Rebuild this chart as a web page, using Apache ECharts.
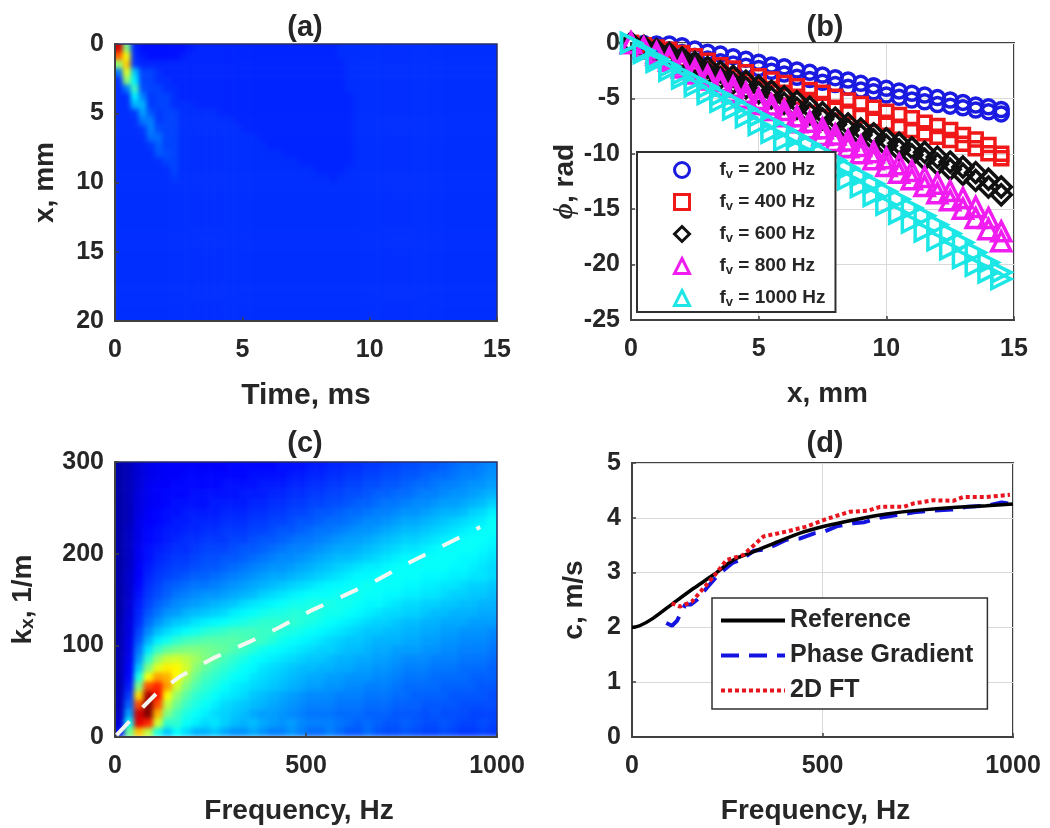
<!DOCTYPE html>
<html><head><meta charset="utf-8">
<style>
html,body{margin:0;padding:0;background:#fff;width:1050px;height:828px;overflow:hidden}
#under,#main{position:absolute;left:0;top:0;width:1050px;height:828px}
#under{filter:blur(2.5px);clip-path:path('M115 44H497V321H115Z M115 462H497V737H115Z')}
#main{filter:blur(0.6px)}
</style>
<script src="https://cdn.jsdelivr.net/npm/echarts@6/dist/echarts.min.js"></script>
</head><body>
<div id="under"></div><div id="main"></div>
<script>
// ---------- panel (a): jet level (0-100) by depth row (0.59 mm) and time column (0.3125 ms)
const aBackground = 17;
const aLevels = [
[92,50,16,14,14,14,14,14,14,15,16,16,16,16,16,16,16,16,16,16,16,16,16,16,16,16,16,16],
[78,62,17,15,14,14,14,14,15,16,16,16,16,16,16,16,16,16,16,16,16,16,16,16,16,16,16,16],
[52,68,18,16,16,16,16,16,16,16,16,16,16,16,16,16,16,16,16,16,16,16,16,16,16,16,16,16,16],
[24,60,32,19,19,17,16,16,16,16,16,16,16,16,16,16,16,16,16,16,16,16,16,16,16,16,16,16,16],
[17,52,36,19,19,17,17,16,16,16,16,16,16,16,16,16,16,16,16,16,16,16,16,16,16,16,16,16,16],
[17,24,44,20,19,19,17,17,16,16,16,16,16,16,16,16,16,16,16,16,16,16,16,16,16,16,16,16,16],
[17,17,36,25,18,19,19,17,16,16,16,16,16,16,16,16,16,16,16,16,16,16,16,16,16,16,16,16,16,16],
[17,17,30,30,18,19,19,17,17,17,16,16,16,16,16,16,16,16,16,16,16,16,16,16,16,16,16,16,16,16],
[17,17,18,28,21,18,19,19,17,17,17,17,17,16,16,16,16,16,16,16,16,16,16,16,16,16,16,16,16,16],
[17,17,17,24,25,18,19,19,17,17,17,17,17,17,17,16,16,16,16,16,16,16,16,16,16,16,16,16,16,16],
[17,17,17,18,25,20,19,19,17,17,17,17,17,17,17,17,16,16,16,16,16,16,16,16,16,16,16,16,16,16],
[17,17,17,17,23,23,19,19,17,17,17,17,17,17,17,17,17,17,16,16,16,16,16,16,16,16,16,16,16,16],
[17,17,17,17,18,22,19,19,17,17,17,17,17,17,17,17,17,17,17,16,16,16,16,16,16,16,16,16,16,16],
[17,17,17,17,17,21,20,19,17,17,17,17,17,17,17,17,17,17,17,17,17,16,16,16,16,16,16,16,16,16],
[17,17,17,17,17,17,19,19,17,17,17,17,17,17,17,17,17,17,17,17,17,17,17,16,16,16,16,16,16,16],
[17,17,17,17,17,17,17,19,17,17,17,17,17,17,17,17,17,17,17,17,17,17,17,17,17,16,16,16,16],
[17,17,17,17,17,17,17,18,17,17,17,17,17,17,17,17,17,17,17,17,17,17,17,17,17,17,17,16]
];
const aCols = 48, aRows = 34;

// ---------- panel (c): jet level by kx row (295 .. 5, step 10) and frequency column (12.5 .. 987.5, step 25)
const cLevels = [
[3,5,8,10,11,12,12,12,12,12,12,12,13,13,13,13,13,14,14,14,15,15,16,16,17,17,18,18,19,19,20,20,21,21,22,23,24,24,25,26],
[3,5,8,10,11,12,12,13,13,13,13,13,13,13,14,14,14,14,15,15,16,16,17,17,18,18,19,19,20,20,21,21,22,23,23,24,25,25,26,27],
[3,5,8,11,12,12,13,13,13,13,13,14,14,14,14,15,15,15,16,16,17,17,18,18,19,19,20,20,21,21,22,23,23,24,25,25,26,27,27,28],
[3,5,9,11,12,13,13,13,14,14,14,14,14,15,15,15,16,16,17,17,18,18,19,19,20,20,21,22,22,23,23,24,25,25,26,27,27,28,29,30],
[3,5,9,11,12,13,14,14,14,14,15,15,15,15,16,16,17,17,18,18,19,19,20,20,21,22,22,23,24,24,25,26,26,27,28,28,29,30,31,33],
[3,5,9,12,13,14,14,15,15,15,15,16,16,16,17,17,18,18,19,19,20,21,21,22,23,23,24,25,25,26,27,27,28,29,30,30,31,33,34,36],
[3,5,10,12,13,14,15,15,16,16,16,17,17,17,18,18,19,19,20,21,21,22,23,23,24,25,26,26,27,28,29,29,30,31,32,33,34,35,36,38],
[3,6,10,13,14,15,15,16,16,17,17,18,18,18,19,19,20,21,21,22,23,24,24,25,26,27,27,28,29,30,31,31,32,33,34,35,36,37,38,38],
[3,6,10,13,14,15,16,17,17,18,18,18,19,19,20,21,21,22,23,24,24,25,26,27,28,28,29,30,31,32,33,33,34,35,36,37,38,38,38,37],
[3,6,11,14,15,16,17,17,18,19,19,19,20,21,21,22,23,24,25,25,26,27,28,29,29,30,31,32,33,34,35,35,36,37,38,38,38,38,37,36],
[3,6,11,14,16,17,18,18,19,20,20,21,21,22,23,24,25,26,26,27,28,29,30,31,31,32,33,34,35,36,37,37,38,38,38,38,37,37,36,35],
[3,6,12,15,17,18,19,19,20,21,21,22,23,24,25,26,27,27,28,29,30,31,32,33,34,35,36,36,37,38,38,38,38,38,38,37,37,36,35,34],
[3,7,12,16,18,19,20,21,22,22,23,24,25,26,27,28,29,29,30,31,32,33,34,35,36,37,37,38,38,38,38,38,37,37,37,36,36,35,35,34],
[3,7,13,17,19,21,22,23,24,24,25,26,27,28,29,30,31,32,33,34,35,36,37,37,38,38,39,38,38,38,37,37,36,36,35,35,34,33,33,32],
[3,7,14,18,20,22,24,25,26,27,27,28,29,30,31,33,34,35,36,37,38,38,38,39,39,39,38,38,37,37,36,36,35,35,34,33,33,32,32,31],
[3,8,15,19,22,24,26,27,28,29,30,31,32,34,35,36,37,38,39,39,40,40,40,39,39,38,37,37,36,35,34,34,33,33,32,32,31,31,30,30],
[3,8,16,21,24,27,28,30,31,32,33,34,36,37,38,39,40,40,41,41,41,40,39,39,38,37,36,35,34,34,33,33,32,31,31,30,30,30,29,29],
[4,9,17,23,27,30,32,33,35,36,37,38,39,40,41,42,42,42,42,41,40,39,38,37,36,35,34,33,33,32,31,31,30,30,29,29,29,28,28,28],
[4,9,19,26,31,34,36,38,39,41,42,43,44,44,44,43,43,41,40,39,38,37,36,35,34,33,32,32,31,31,30,30,29,29,28,28,27,27,27,26],
[4,10,21,30,36,39,42,44,45,46,46,46,46,45,44,43,41,39,38,37,36,35,34,33,32,32,31,30,30,30,29,29,28,28,27,27,26,26,26,25],
[4,10,24,35,43,47,49,50,50,49,48,47,45,43,41,39,38,37,36,35,34,33,33,32,31,31,30,29,29,28,28,28,27,27,26,26,25,25,25,24],
[4,11,27,42,52,57,58,56,53,50,47,44,42,40,38,37,36,35,34,33,32,32,31,30,30,29,29,28,28,27,26,26,26,25,25,25,24,24,24,23],
[4,12,32,50,60,64,63,58,51,47,44,42,40,38,37,35,34,33,32,31,31,30,30,29,29,28,28,27,27,26,25,25,25,24,24,24,23,23,23,22],
[4,13,40,62,72,70,62,54,48,44,42,40,38,37,35,34,33,32,31,30,29,29,28,28,27,27,27,26,26,25,24,24,24,23,23,23,23,22,22,22],
[4,15,50,80,84,72,58,50,45,42,40,38,36,35,34,33,32,31,30,29,28,28,27,27,26,26,25,25,25,24,23,23,23,23,22,22,22,22,21,21],
[5,18,66,96,86,62,52,46,42,40,38,36,35,34,32,31,30,29,28,27,26,26,26,25,25,25,24,24,24,23,23,22,22,22,22,21,21,21,21,20],
[5,22,80,100,80,56,48,43,40,38,36,34,33,32,31,30,29,28,27,26,25,25,25,24,24,24,23,23,23,22,22,22,21,21,21,21,20,20,20,20],
[6,28,92,100,70,50,44,40,38,36,34,33,32,31,29,28,28,27,26,25,24,24,24,23,23,23,22,22,22,21,21,21,20,21,20,20,20,19,19,19],
[8,38,90,84,58,42,42,38,36,34,35,33,31,30,31,29,28,27,28,26,25,25,25,24,23,22,23,22,21,21,22,21,20,20,21,20,19,19,20,19],
[14,48,68,56,40,32,38,34,30,30,32,29,27,27,29,27,25,25,27,25,23,23,25,23,21,21,23,21,20,20,21,20,19,19,20,19,18,18,19,18]
];
const cCols = 40, cRows = 30;
const ridgeFreq = [4,74,109,170,257,353,432,519,598,685,764,851,956];
const ridgeK = [2,33,47.6,66,86,104,120,139,154,171,189,207,229];

// ---------- panel (b): phase (rad), upper and lower marker rows at x = 0, 0.5, ... 14.5 mm
const xMm = [0,0.5,1,1.5,2,2.5,3,3.5,4,4.5,5,5.5,6,6.5,7,7.5,8,8.5,9,9.5,10,10.5,11,11.5,12,12.5,13,13.5,14,14.5];
const phi200a = [0,-0.05,-0.08,-0.09,-0.24,-0.54,-0.84,-1.0,-1.23,-1.47,-1.74,-1.99,-2.14,-2.44,-2.65,-2.89,-3.13,-3.34,-3.64,-3.85,-4.09,-4.33,-4.54,-4.69,-4.93,-5.14,-5.36,-5.6,-5.75,-6.0];
const phi200b = [0,-0.2,-0.4,-0.6,-0.85,-1.2,-1.45,-1.7,-1.9,-2.1,-2.3,-2.55,-2.8,-3.1,-3.3,-3.55,-3.75,-4.0,-4.25,-4.4,-4.7,-4.9,-5.15,-5.3,-5.55,-5.7,-5.85,-6.05,-6.2,-6.4];
const phi400a = [0,-0.2,-0.4,-0.6,-0.9,-1.2,-1.6,-2.0,-2.3,-2.65,-3.0,-3.3,-3.6,-3.9,-4.25,-4.5,-4.85,-5.2,-5.5,-5.85,-6.2,-6.5,-6.8,-7.2,-7.5,-7.85,-8.3,-8.7,-9.2,-10.0];
const phi400b = [0,-0.3,-0.7,-1.1,-1.5,-1.9,-2.35,-2.75,-3.1,-3.45,-3.85,-4.15,-4.5,-4.85,-5.15,-5.5,-5.85,-6.2,-6.55,-6.85,-7.2,-7.55,-7.85,-8.15,-8.45,-8.75,-9.1,-9.5,-9.95,-10.4];
const phi600a = [0,-0.3,-0.6,-0.95,-1.35,-1.75,-2.2,-2.6,-3.0,-3.45,-3.9,-4.35,-4.85,-5.3,-5.8,-6.3,-6.8,-7.3,-7.75,-8.2,-8.65,-9.05,-9.45,-9.85,-10.3,-10.75,-11.2,-11.7,-12.3,-13.0];
const phi600b = [0,-0.4,-0.85,-1.3,-1.75,-2.2,-2.7,-3.15,-3.6,-4.05,-4.5,-4.95,-5.45,-5.9,-6.4,-6.85,-7.35,-7.85,-8.3,-8.75,-9.25,-9.65,-10.1,-10.5,-10.95,-11.4,-11.85,-12.4,-13.0,-13.7];
const phi800a = [0,-0.4,-0.85,-1.35,-1.9,-2.4,-2.95,-3.45,-3.95,-4.5,-5.05,-5.55,-6.05,-6.6,-7.1,-7.7,-8.25,-8.8,-9.3,-9.85,-10.4,-10.95,-11.55,-12.1,-12.7,-13.35,-14.0,-14.8,-15.8,-17.0];
const phi800b = [0,-0.5,-1.05,-1.6,-2.2,-2.75,-3.3,-3.85,-4.4,-4.95,-5.5,-6.05,-6.6,-7.15,-7.7,-8.3,-8.85,-9.4,-9.95,-10.5,-11.1,-11.7,-12.3,-12.9,-13.55,-14.2,-14.95,-15.8,-16.8,-17.9];
const phi1000a = [0,-0.7,-1.4,-2.1,-2.8,-3.4,-4.0,-4.7,-5.3,-5.95,-6.6,-7.2,-7.85,-8.5,-9.2,-9.9,-10.6,-11.3,-12.0,-12.7,-13.4,-14.1,-14.9,-15.6,-16.4,-17.2,-18.0,-18.9,-19.8,-20.7];
const phi1000b = [0,-0.9,-1.7,-2.5,-3.2,-3.9,-4.6,-5.3,-6.0,-6.7,-7.4,-8.1,-8.8,-9.5,-10.2,-10.9,-11.6,-12.3,-13.0,-13.8,-14.6,-15.4,-16.2,-17.0,-17.8,-18.6,-19.4,-20.1,-20.7,-21.3];

// ---------- panel (d)
const refFreq = [0,20,56,108,161,214,266,318,371,441,502,581,668,755,843,930,1000];
const refC = [2,2.03,2.17,2.44,2.71,2.96,3.23,3.38,3.53,3.72,3.84,3.96,4.07,4.14,4.19,4.22,4.25];
const pgFreq = [90,105,118,140,155,170,200,225,250,265,290,320,345,375,405,440,480,505,540,580,610,650,695,740,790,840,880,930,970,1000];
const pgC = [2.08,2.03,2.12,2.42,2.42,2.5,2.75,2.95,3.1,3.18,3.25,3.4,3.42,3.5,3.6,3.62,3.72,3.75,3.85,3.9,3.92,4.0,4.05,4.1,4.13,4.15,4.2,4.22,4.28,4.25];
const ftFreq = [104,126,157,187,218,248,292,345,406,458,511,572,620,651,712,738,791,843,870,931,992];
const ftC = [2.44,2.38,2.47,2.71,2.96,3.23,3.32,3.66,3.75,3.84,3.98,4.11,4.13,4.2,4.2,4.26,4.32,4.31,4.38,4.38,4.42];

const jet = ['#00008f','#0000ff','#0080ff','#00ffff','#80ff80','#ffff00','#ff8000','#ff0000','#800000'];
const FONT = '"Liberation Sans", Arial, sans-serif';
const INK = '#262626';
const zip = (a,b)=>a.map((v,i)=>[v,b[i]]);
const two = (a,b)=>zip(xMm,a).concat(zip(xMm,b));

function cells(levels,nc,nr,fill){
  const out=[];
  for(let r=-1;r<=nr;r++){
    const src=(r>=levels.length)?[]:levels[Math.max(0,r)];
    for(let c=-1;c<=nc;c++){
      const v=src[Math.max(0,c)];
      out.push([c+1,r+1,v===undefined?(fill===undefined?src[src.length-1]:fill):v]);
    }
  }
  return out;
}
const seq=n=>Array.from({length:n},(_,i)=>String(i));
const boxA={l:115,t:44,w:382,h:277}, boxC={l:115,t:462,w:382,h:275};
function hmGrid(b,nc,nr){const cw=b.w/nc,ch=b.h/nr;return {left:b.l-cw,top:b.t-ch,width:b.w+2*cw,height:b.h+2*ch,show:false};}
const under=echarts.init(document.getElementById('under'),null,{renderer:'canvas'});
under.setOption({
  animation:false,
  grid:[hmGrid(boxA,aCols,aRows),hmGrid(boxC,cCols,cRows)],
  xAxis:[{type:'category',gridIndex:0,data:seq(aCols+2),show:false},{type:'category',gridIndex:1,data:seq(cCols+2),show:false}],
  yAxis:[{type:'category',gridIndex:0,data:seq(aRows+2),show:false,inverse:true},{type:'category',gridIndex:1,data:seq(cRows+2),show:false,inverse:true}],
  visualMap:{show:false,min:0,max:100,calculable:false,inRange:{color:jet}},
  series:[
    {type:'heatmap',xAxisIndex:0,yAxisIndex:0,data:cells(aLevels,aCols,aRows,aBackground),progressive:0},
    {type:'heatmap',xAxisIndex:1,yAxisIndex:1,data:cells(cLevels,cCols,cRows),progressive:0}
  ]
});

const labelX={fontFamily:FONT,fontWeight:'bold',fontSize:25,color:INK,margin:17,formatter:v=>String(v)};
const labelY={fontFamily:FONT,fontWeight:'bold',fontSize:25,color:INK,margin:11,padding:[4,0,0,0],formatter:v=>String(v)};
const nameStyle={fontFamily:FONT,fontWeight:'bold',fontSize:28,color:INK};
const frame={show:true,lineStyle:{color:'#404040',width:2}};
function axis(o){
  return Object.assign({type:'value',axisLine:Object.assign({onZero:false},frame),
    axisTick:{show:true,inside:true,length:4,lineStyle:{color:'#404040',width:1.5}},
    nameLocation:'middle',nameTextStyle:nameStyle,
    splitLine:{show:false}},o);
}
const gridLine={show:true,lineStyle:{color:'#d9d9d9',width:1}};
const frameDark={show:true,borderColor:'#404040',borderWidth:2,backgroundColor:'transparent'};
const frameA={show:true,borderColor:'#2a2f66',borderWidth:1.5,backgroundColor:'transparent'};
const title=(t,x,y)=>({text:t,left:x,top:y,textAlign:'center',textVerticalAlign:'middle',textStyle:{fontFamily:FONT,fontWeight:'bold',fontSize:29,color:INK}});
const marker=(name,sym,col,a,b,rot,size)=>({name,type:'scatter',xAxisIndex:1,yAxisIndex:1,data:two(a,b),symbol:sym,symbolSize:size,symbolRotate:rot||0,clip:false,
  itemStyle:{color:'rgba(255,255,255,0)',borderColor:col,borderWidth:3.5,opacity:1}});
const fmt=n=>'{p|f}{s|v}{a| = '+n+' Hz}';
const main=echarts.init(document.getElementById('main'),null,{renderer:'canvas'});
const xAxisFreq=(g,extra)=>axis(Object.assign({gridIndex:g,min:0,max:1000,interval:500,name:'Frequency, Hz',nameGap:60,axisLabel:labelX,
  nameTextStyle:Object.assign({},nameStyle,{padding:[0,14,0,0]})},extra));
main.setOption({
  animation:false,
  backgroundColor:'transparent',
  title:[title('(a)',300,23),title('(b)',820,23),title('(c)',300,439),title('(d)',820,439)],
  grid:[
    Object.assign({left:115,top:44,width:382,height:277},frameA),
    Object.assign({left:631,top:43,width:383,height:277},frameDark),
    Object.assign({left:115,top:462,width:382,height:275},frameA),
    Object.assign({left:632,top:463,width:381,height:274},frameDark)
  ],
  xAxis:[
    axis({gridIndex:0,min:0,max:15,interval:5,name:'Time, ms',nameGap:60,axisLabel:labelX,nameTextStyle:Object.assign({},nameStyle,{fontSize:30})}),
    axis({gridIndex:1,min:0,max:15,interval:5,name:'x, mm',nameGap:60,axisLabel:labelX,splitLine:gridLine,nameTextStyle:Object.assign({},nameStyle,{padding:[0,0,0,10]})}),
    xAxisFreq(2,{}),
    xAxisFreq(3,{splitLine:gridLine})
  ],
  yAxis:[
    axis({gridIndex:0,min:0,max:20,interval:5,inverse:true,name:'x, mm',nameGap:56,axisLabel:labelY}),
    axis({gridIndex:1,min:-25,max:0,interval:5,name:'{i|\u03d5}, rad',nameGap:52,axisLabel:labelY,splitLine:gridLine,
      nameTextStyle:Object.assign({},nameStyle,{rich:{i:{fontFamily:'"Liberation Serif",serif',fontStyle:'italic',fontWeight:'bold',fontSize:28,color:INK}}})}),
    axis({gridIndex:2,min:0,max:300,interval:100,name:'k{s|x}, 1/m',nameGap:78,axisLabel:labelY,
      nameTextStyle:Object.assign({},nameStyle,{rich:{s:{fontFamily:FONT,fontWeight:'bold',fontSize:19,color:INK,verticalAlign:'bottom',lineHeight:16,padding:[14,0,0,0]}}})}),
    axis({gridIndex:3,min:0,max:5,interval:1,name:'c, m/s',nameGap:44,axisLabel:labelY,splitLine:gridLine})
  ],
  legend:[
    {left:637,top:152,orient:'vertical',padding:[6,10,3,36],itemWidth:15,itemHeight:15,itemGap:9,backgroundColor:'#fff',borderColor:'#303030',borderWidth:2,
     itemStyle:{borderWidth:3},
     data:['200','400','600','800','1000'].map(n=>n+' Hz'),
     formatter:n=>fmt(n.split(' ')[0]),
     textStyle:{fontFamily:FONT,fontWeight:'bold',fontSize:19,color:INK,rich:{
       p:{fontFamily:FONT,fontWeight:'bold',fontSize:19,color:INK,lineHeight:22,padding:[0,0,0,25]},
       a:{fontFamily:FONT,fontWeight:'bold',fontSize:19,color:INK,lineHeight:22},
       s:{fontFamily:FONT,fontWeight:'bold',fontSize:13,color:INK,verticalAlign:'bottom',lineHeight:14,padding:[10,0,0,0]}}}},
    {left:712,top:598,orient:'vertical',padding:[10,14,6,7],itemWidth:64,itemHeight:24,itemGap:10,backgroundColor:'#fff',borderColor:'#303030',borderWidth:1.5,
     itemStyle:{opacity:0},lineStyle:{width:4},
     data:['Reference','Phase Gradient','2D FT'],
     textStyle:{fontFamily:FONT,fontWeight:'bold',fontSize:25,color:INK}}
  ],
  series:[
    {name:'ridge',type:'line',xAxisIndex:2,yAxisIndex:2,data:zip(ridgeFreq,ridgeK),symbol:'none',silent:true,lineStyle:{color:'#f4f6f0',width:4,type:[19,19]},z:5},
    marker('200 Hz','circle','#1a1ae0',phi200a,phi200b,0,14),
    marker('400 Hz','rect','#f01818',phi400a,phi400b,0,13),
    marker('600 Hz','diamond','#111111',phi600a,phi600b,0,20),
    marker('800 Hz','triangle','#f01cf0',phi800a,phi800b,0,19),
    marker('1000 Hz','triangle','#1ce6e6',phi1000a,phi1000b,-90,19),
    {name:'Phase Gradient',type:'line',xAxisIndex:3,yAxisIndex:3,data:zip(pgFreq,pgC),symbol:'none',z:2,lineStyle:{color:'#1414e0',width:4,type:[18,10]}},
    {name:'Reference',type:'line',xAxisIndex:3,yAxisIndex:3,data:zip(refFreq,refC),symbol:'none',smooth:0.3,z:3,lineStyle:{color:'#000',width:3.5}},
    {name:'2D FT',type:'line',xAxisIndex:3,yAxisIndex:3,data:zip(ftFreq,ftC),symbol:'none',z:4,lineStyle:{color:'#e8141e',width:4,type:[4,3]}}
  ]
});
</script>
</body></html>
